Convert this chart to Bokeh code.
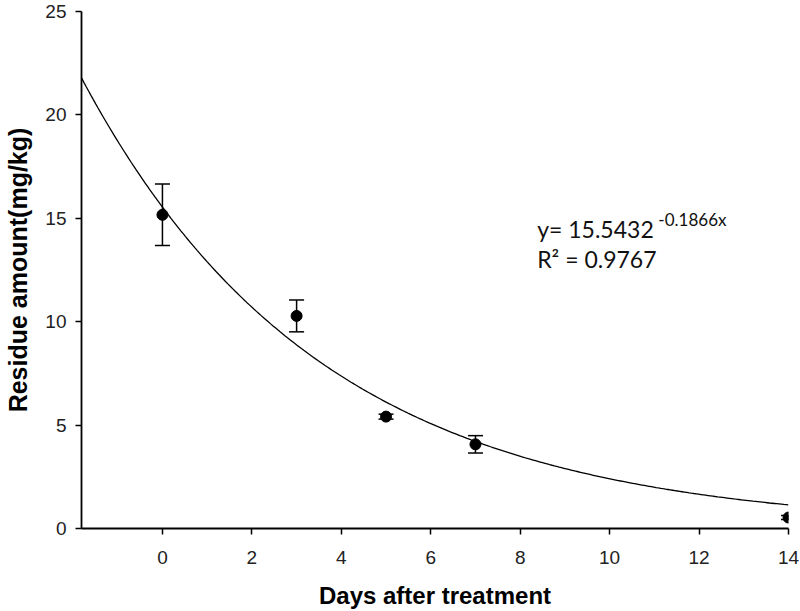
import numpy as np
from bokeh.plotting import figure
from bokeh.models import ColumnDataSource, Whisker, TeeHead, Label, FixedTicker, Range1d
from bokeh.embed import file_html
from bokeh.resources import INLINE

# Data
days = [0, 3, 5, 7, 14]
residue = [15.17, 10.28, 5.41, 4.07, 0.53]
sd = [1.49, 0.77, 0.12, 0.42, 0.10]

# Fitted model stated on the chart: y = 15.5432 e^(-0.1866x)
fit_a = 15.5432
fit_b = 0.1866
fit_label = "y= 15.5432"
fit_exp_label = "-0.1866x"
r2_label = "R\u00b2 = 0.9767"

x_ticks = [0, 2, 4, 6, 8, 10, 12, 14]
y_ticks = [0, 5, 10, 15, 20, 25]

x_start, x_end = -1.81, 14.0

p = figure(width=800, height=611, output_backend="svg", toolbar_location=None,
           x_range=Range1d(x_start, x_end), y_range=Range1d(0, 25),
           min_border_left=81, min_border_right=12, min_border_top=11, min_border_bottom=0)
p.outline_line_color = None
p.xgrid.visible = False
p.ygrid.visible = False
p.background_fill_color = "white"
p.border_fill_color = "white"

# fitted curve
xs = np.linspace(x_start, x_end, 300)
ys = fit_a * np.exp(-fit_b * xs)
p.line(xs, ys, line_color="black", line_width=1.3)

src = ColumnDataSource(dict(x=days, y=residue,
                            upper=[m + s for m, s in zip(residue, sd)],
                            lower=[m - s for m, s in zip(residue, sd)]))
w = Whisker(source=src, base="x", upper="upper", lower="lower",
            line_color="black", line_width=1.5,
            upper_head=TeeHead(size=15, line_color="black", line_width=1.5),
            lower_head=TeeHead(size=15, line_color="black", line_width=1.5))
p.add_layout(w)
p.scatter("x", "y", source=src, size=11, fill_color="black", line_color="black")

for ax in (p.xaxis[0], p.yaxis[0]):
    ax.axis_line_color = "black"
    ax.axis_line_width = 1.8
    ax.major_tick_line_color = "black"
    ax.major_tick_line_width = 1.5
    ax.major_tick_out = 6
    ax.major_tick_in = 0
    ax.minor_tick_line_color = None
    ax.major_label_text_font = "Liberation Sans"
    ax.major_label_text_font_size = "19px"
    ax.major_label_text_color = "#222222"
    ax.axis_label_text_font = "Liberation Sans"
    ax.axis_label_text_font_style = "bold"
    ax.axis_label_text_font_size = "24px"
    ax.axis_label_text_color = "black"

p.xaxis[0].ticker = FixedTicker(ticks=x_ticks)
p.yaxis[0].ticker = FixedTicker(ticks=y_ticks)
p.xaxis[0].axis_label = "Days after treatment"
p.yaxis[0].axis_label = "Residue amount(mg/kg)"
p.yaxis[0].axis_label_text_font_size = "25px"
p.xaxis[0].major_label_standoff = 16
p.yaxis[0].major_label_standoff = 9
p.xaxis[0].axis_label_standoff = 15
p.yaxis[0].axis_label_standoff = 10

p.add_layout(Label(x=8.38, y=14.5, text=fit_label, text_font="Lato",
                   text_font_size="23px", text_color="#111111", text_baseline="alphabetic"))
p.add_layout(Label(x=11.09, y=14.95, text=fit_exp_label, text_font="Lato",
                   text_font_size="17px", text_color="#111111", text_baseline="alphabetic"))
p.add_layout(Label(x=8.38, y=13.05, text=r2_label, text_font="Lato",
                   text_font_size="23px", text_color="#111111", text_baseline="alphabetic"))

open("out.html", "w").write(file_html(p, INLINE))
